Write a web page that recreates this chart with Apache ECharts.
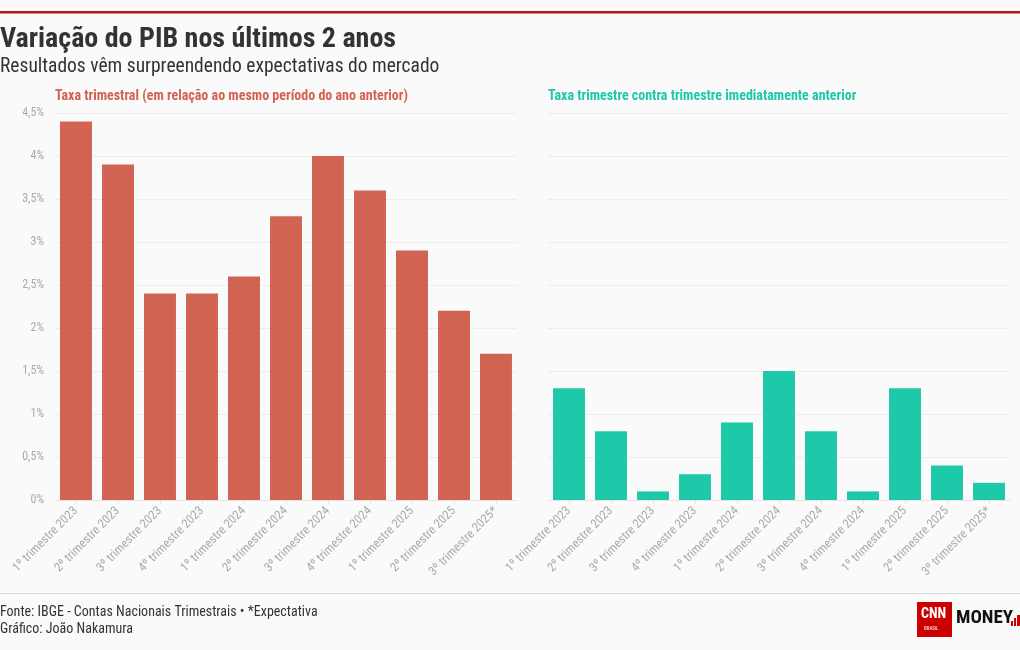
<!DOCTYPE html>
<html>
<head>
<meta charset="utf-8">
<script src="https://cdn.jsdelivr.net/npm/echarts@6/dist/echarts.min.js"></script>
<style>
html,body{margin:0;padding:0;background:#fafafa;}
#c{width:1020px;height:650px;}
</style>
</head>
<body>
<div id="c"></div>
<script>
const categories = ["1º trimestre 2023","2º trimestre 2023","3º trimestre 2023","4º trimestre 2023","1º trimestre 2024","2º trimestre 2024","3º trimestre 2024","4º trimestre 2024","1º trimestre 2025","2º trimestre 2025","3º trimestre 2025*"];
const anualValues = [4.4, 3.9, 2.4, 2.4, 2.6, 3.3, 4.0, 3.6, 2.9, 2.2, 1.7];
const trimestralValues = [1.3, 0.8, 0.1, 0.3, 0.9, 1.5, 0.8, 0.1, 1.3, 0.4, 0.2];
const yTicks = [0, 0.5, 1, 1.5, 2, 2.5, 3, 3.5, 4, 4.5];

const FONT = '"Roboto Condensed","Liberation Sans Narrow","DejaVu Sans Condensed",Roboto,sans-serif';
const RED = '#d16352';
const GREEN = '#1dc9a8';

const chart = echarts.init(document.getElementById('c'));

function xAxis(idx){
  return {
    type:'category', gridIndex:idx, data:categories,
    axisLine:{lineStyle:{color:'#e6e6e6'}},
    axisTick:{show:true, alignWithLabel:true, length:4, lineStyle:{color:'#e6e6e6'}},
    axisLabel:{rotate:45, color:'#aaaaaa', fontSize:12.5, fontFamily:FONT, margin:9, interval:0}
  };
}
function yAxis(idx, showLabels){
  return {
    type:'value', gridIndex:idx, min:yTicks[0], max:yTicks[yTicks.length-1], interval:0.5,
    axisLine:{show:false}, axisTick:{show:false},
    splitLine:{lineStyle:{color:'#ececec'}},
    axisLabel:{show:showLabels, color:'#aaaaaa', fontSize:12, fontFamily:FONT, margin:11,
      formatter:v=>String(v).replace('.',',')+'%'}
  };
}

chart.setOption({
  backgroundColor:'#fafafa',
  animation:false,
  textStyle:{fontFamily:FONT},
  title:[
    {text:'Variação do PIB nos últimos 2 anos', left:0, top:26, padding:0,
     textStyle:{fontSize:28, fontWeight:'bold', color:'#333333', fontFamily:FONT}},
    {text:'Resultados vêm surpreendendo expectativas do mercado', left:0, top:57, padding:0,
     textStyle:{fontSize:19.5, fontWeight:'normal', color:'#333333', fontFamily:FONT}},
    {text:'Taxa trimestral (em relação ao mesmo período do ano anterior)', left:55, top:89, padding:0,
     textStyle:{fontSize:14, fontWeight:'bold', color:RED, fontFamily:FONT}},
    {text:'Taxa trimestre contra trimestre imediatamente anterior', left:548, top:89, padding:0,
     textStyle:{fontSize:14, fontWeight:'bold', color:GREEN, fontFamily:FONT}}
  ],
  grid:[
    {left:55, right:503, top:113, bottom:150},
    {left:548, right:10, top:113, bottom:150}
  ],
  xAxis:[xAxis(0), xAxis(1)],
  yAxis:[yAxis(0,true), yAxis(1,false)],
  series:[
    {type:'bar', xAxisIndex:0, yAxisIndex:0, data:anualValues, barCategoryGap:'24%',
     itemStyle:{color:RED}},
    {type:'bar', xAxisIndex:1, yAxisIndex:1, data:trimestralValues, barCategoryGap:'24%',
     itemStyle:{color:GREEN}}
  ],
  graphic:[
    {type:'rect', left:0, top:11, shape:{width:1020, height:2.5}, style:{fill:'#b5121b'}},
    {type:'rect', left:0, top:593, shape:{width:1020, height:1}, style:{fill:'#dddddd'}},
    {type:'text', left:0, top:605, style:{text:'Fonte: IBGE - Contas Nacionais Trimestrais • *Expectativa', fontSize:14, fill:'#333333', fontFamily:FONT}},
    {type:'text', left:0, top:622, style:{text:'Gráfico: João Nakamura', fontSize:14, fill:'#333333', fontFamily:FONT}},
    {type:'rect', left:917, top:602, shape:{width:35, height:35}, style:{fill:'#cc0000'}},
    {type:'text', left:921, top:607, style:{text:'CNN', fontSize:14, fontWeight:'bold', fill:'#ffffff', fontFamily:FONT}},
    {type:'text', left:924, top:626, style:{text:'BRASIL', fontSize:5, fill:'#ffffff', fontFamily:FONT}},
    {type:'text', left:956, top:609, style:{text:'MONEY', fontSize:19, fontWeight:'bold', fill:'#111111', fontFamily:FONT}},
    {type:'rect', left:1011, top:621, shape:{width:2, height:5}, style:{fill:'#cc0000'}},
    {type:'rect', left:1014, top:618, shape:{width:2, height:8}, style:{fill:'#cc0000'}},
    {type:'rect', left:1017, top:615, shape:{width:3, height:11}, style:{fill:'#cc0000'}}
  ]
});
</script>
</body>
</html>
